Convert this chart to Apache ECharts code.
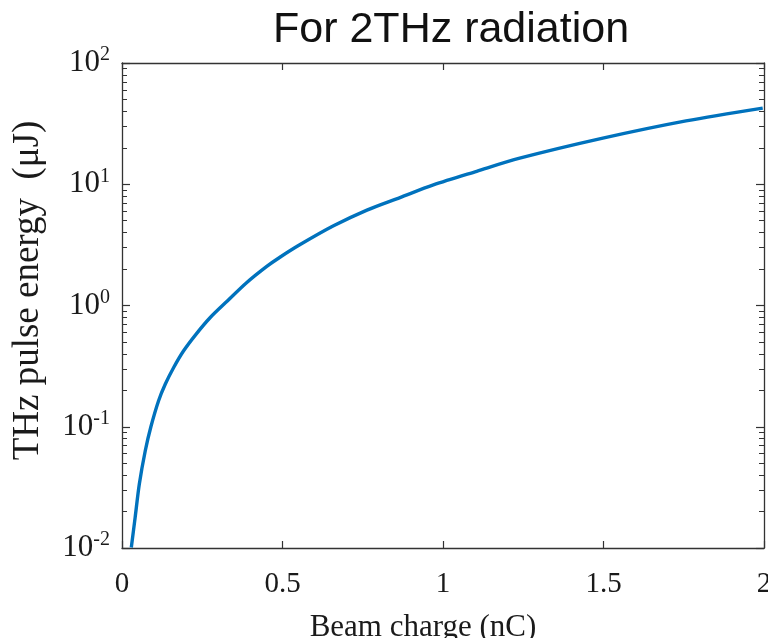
<!DOCTYPE html>
<html>
<head>
<meta charset="utf-8">
<script src="https://cdn.jsdelivr.net/npm/echarts@6/dist/echarts.min.js"></script>
<style>html,body{margin:0;padding:0;background:#fff;}#c{width:768px;height:638px;}</style>
</head>
<body>
<div id="c"></div>
<script>
var titleText = 'For 2THz radiation';
var xName = 'Beam charge (nC)';
var yName = 'THz pulse energy  (\u03bcJ)';
var beamCharge = [0.029, 0.041, 0.054, 0.0725, 0.090, 0.114, 0.135, 0.161, 0.192, 0.231, 0.275, 0.329, 0.388, 0.451, 0.492, 0.555, 0.659, 0.763, 0.866, 0.970, 1.105, 1.239, 1.498, 1.757, 1.996];
var pulseEnergy = [0.0101, 0.0179, 0.0337, 0.0634, 0.100, 0.164, 0.225, 0.308, 0.423, 0.581, 0.796, 1.094, 1.54, 2.10, 2.50, 3.18, 4.54, 6.12, 7.77, 9.88, 12.8, 16.4, 24.0, 33.3, 42.5];
var xTicks = [0, 0.5, 1, 1.5, 2];
var yDecades = [0.01, 0.1, 1, 10, 100];
var yMinorTicks = [];
yDecades.slice(0, 4).forEach(function (d) { for (var k = 2; k <= 9; k++) yMinorTicks.push(+(d * k).toPrecision(3)); });

var axisColor = '#333';
var textColor = '#1a1a1a';
var serif = 'Liberation Serif';
function expLabel(v) {
  var e = Math.round(Math.log10(v));
  return '10{s|' + e + '}';
}
var chart = echarts.init(document.getElementById('c'));
var data = beamCharge.map(function (q, i) { return [q, pulseEnergy[i]]; });
function yAx(pos, minor, show) {
  return {
    type: 'log', logBase: 10, position: pos, min: 0.01, max: 100,
    axisLine: { show: show, lineStyle: { color: axisColor, width: 1.3 } },
    axisTick: minor ? { show: true, inside: true, length: 5, customValues: yMinorTicks, lineStyle: { color: axisColor, width: 1 } }
                    : { show: true, inside: true, length: 8, customValues: yDecades, lineStyle: { color: axisColor, width: 1.2 } },
    axisLabel: { show: false },
    splitLine: { show: false }
  };
}
var left = yAx('left', false, true);
left.axisLabel = {
  show: true, customValues: yDecades, formatter: expLabel, margin: 12,
  color: textColor, fontFamily: serif, fontSize: 31,
  rich: { s: { fontFamily: serif, fontSize: 20, verticalAlign: 'top', padding: [0, 0, 16, 0], color: textColor } }
};
left.name = yName;
left.nameLocation = 'middle';
left.nameGap = 75;
left.nameTextStyle = { fontFamily: serif, fontSize: 37, color: textColor, padding: [0, 0, 0, 30] };
var option = {
  animation: false,
  backgroundColor: '#fff',
  title: { text: titleText, left: 268, top: 4, textStyle: { fontFamily: 'Liberation Sans', fontWeight: 'normal', fontSize: 43, color: '#111' } },
  grid: { left: 122, right: 4, top: 63, bottom: 90, containLabel: false, outerBoundsMode: 'none' },
  xAxis: [{
    type: 'value', min: 0, max: 2, interval: 0.5, position: 'bottom',
    axisLine: { lineStyle: { color: axisColor, width: 1.3 } },
    axisTick: { inside: true, length: 7, lineStyle: { color: axisColor, width: 1.2 } },
    axisLabel: { margin: 22, color: textColor, fontFamily: serif, fontSize: 29, formatter: function (v) { return String(v); }, showMaxLabel: true, showMinLabel: true },
    splitLine: { show: false },
    name: xName, nameLocation: 'middle', nameGap: 64,
    nameTextStyle: { fontFamily: serif, fontSize: 31, color: textColor, padding: [0, 40, 0, 0] }
  }, {
    type: 'value', min: 0, max: 2, interval: 0.5, position: 'top',
    axisLine: { lineStyle: { color: axisColor, width: 1.3 } },
    axisTick: { inside: true, length: 7, lineStyle: { color: axisColor, width: 1.2 } },
    axisLabel: { show: false }, splitLine: { show: false }
  }],
  yAxis: [left, yAx('left', true, false), yAx('right', false, true), yAx('right', true, false)],
  series: [{
    type: 'line', data: data, xAxisIndex: 0, yAxisIndex: 0,
    smooth: 0.3, showSymbol: false, symbol: 'none',
    lineStyle: { color: '#0072BD', width: 3.4 }
  }]
};
chart.setOption(option);
</script>
</body>
</html>
